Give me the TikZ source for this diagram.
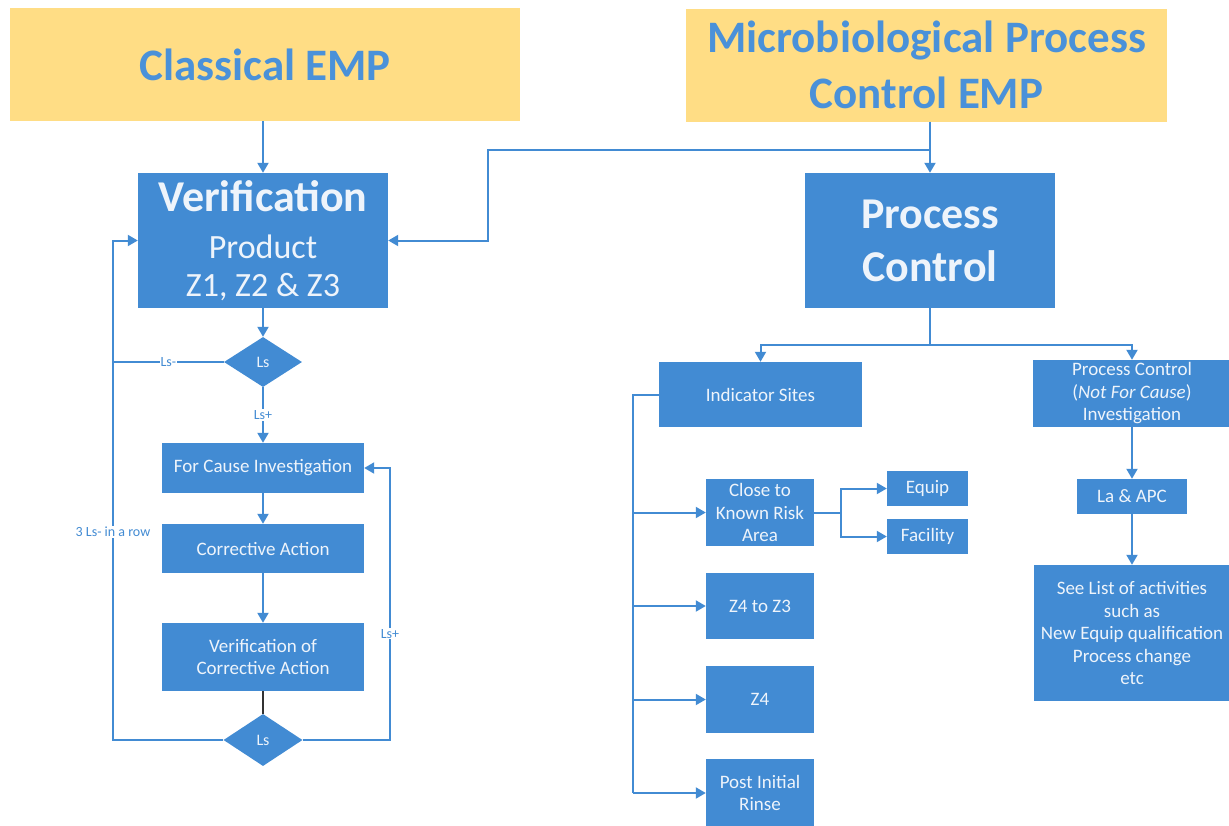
\documentclass[tikz,border=0pt]{standalone}
\usepackage{fontspec}
\setmainfont{Carlito}
\usetikzlibrary{shapes.geometric,arrows.meta}
\definecolor{boxblue}{RGB}{66,139,211}
\definecolor{hdryellow}{RGB}{255,221,133}
\definecolor{hdrtext}{RGB}{74,145,217}
\definecolor{boxtext}{RGB}{238,244,251}

\begin{document}
\begin{tikzpicture}[x=1pt,y=-1pt,
  hdr/.style={fill=hdryellow,text=hdrtext,align=center,inner sep=0,
    font=\fontsize{45}{56}\selectfont\bfseries},
  blk/.style={fill=boxblue,text=boxtext,align=center,inner sep=0,
    font=\fontsize{19}{22.5}\selectfont},
  dec/.style={diamond,fill=boxblue,text=boxtext,inner sep=0,
    font=\fontsize{16}{18}\selectfont},
  ln/.style={draw=boxblue,line width=2pt},
  arr/.style={ln,-{Triangle[width=11pt,length=10pt]}},
  lbl/.style={fill=white,text=boxblue,inner sep=1pt,
    font=\fontsize{14}{16}\selectfont}]
\useasboundingbox (0,0) rectangle (1229,825);
\clip (0,0) rectangle (1229,825);

% headers
\node[hdr,minimum width=510pt,minimum height=113pt] (classic) at (265,64.5) {Classical EMP};
\node[hdr,minimum width=481pt,minimum height=113pt] (micro) at (926.5,65)
  {Microbiological Process\\Control EMP};

% left column
\node[blk,minimum width=250pt,minimum height=135pt,font=\fontsize{34}{38}\selectfont]
  (vfy) at (263,240.5)
  {{\fontsize{44}{46}\selectfont\bfseries Verification}\\[9pt]Product\\Z1, Z2 \& Z3};
\node[dec,minimum width=78pt,minimum height=50pt] (d1) at (263,362) {Ls};
\node[blk,minimum width=202pt,minimum height=50pt] (fci) at (263,468) {For Cause Investigation};
\node[blk,minimum width=202pt,minimum height=49pt] (ca) at (263,548.5) {Corrective Action};
\node[blk,minimum width=202pt,minimum height=68pt] (vca) at (263,657)
  {Verification of\\Corrective Action};
\node[dec,minimum width=79pt,minimum height=52pt] (d2) at (263,740) {Ls};

% right part
\node[blk,minimum width=250pt,minimum height=135pt,font=\fontsize{44}{53}\selectfont\bfseries]
  (pc) at (930,240.5) {Process\\Control};
\node[blk,minimum width=203pt,minimum height=65pt] (ind) at (760.5,394.5) {Indicator Sites};
\node[blk,minimum width=108pt,minimum height=67pt] (ckr) at (760,512.5)
  {Close to\\Known Risk\\Area};
\node[blk,minimum width=81pt,minimum height=35pt] (equip) at (927.5,488.5) {Equip};
\node[blk,minimum width=81pt,minimum height=35pt] (fac) at (927.5,536.5) {Facility};
\node[blk,minimum width=108pt,minimum height=66pt] (z43) at (760,606) {Z4 to Z3};
\node[blk,minimum width=108pt,minimum height=67pt] (z4) at (760,699.5) {Z4};
\node[blk,minimum width=108pt,minimum height=68pt] (pir) at (760,793)
  {Post Initial\\Rinse};
\node[blk,minimum width=198pt,minimum height=67pt] (pcn) at (1132,393.5)
  {Process Control\\(\textit{Not For Cause})\\Investigation};
\node[blk,minimum width=110pt,minimum height=35pt] (la) at (1132,496.5) {La \& APC};
\node[blk,minimum width=197pt,minimum height=136pt] (list) at (1132,633)
  {See List of activities\\such as\\New Equip qualification\\Process change\\etc};

\coordinate (lft) at (113,0);
\coordinate (rgt) at (390,0);
\coordinate (jn) at (930,150);
\coordinate (bnd) at (488,150);
\coordinate (pj) at (930,345);
\coordinate (trk) at (633,0);
\coordinate (fk) at (841,512.5);

\draw[arr] (vfy.north |- classic.south) -- (vfy.north);
\draw[arr] (pc.north |- micro.south) -- (pc.north);
\draw[arr] (jn) -- (bnd) |- (vfy.east);
\draw[arr] (vfy.south) -- (d1.north);
\draw[arr] (d1.west) -- node[lbl] {Ls-} (d1.west -| lft) |- (vfy.west);
\draw[arr] (d1.south) -- node[lbl] {Ls+} (fci.north);
\draw[arr] (fci.south) -- (ca.north);
\draw[arr] (ca.south) -- (vca.north);
\draw[line width=2pt,black!80] (vca.south) -- (d2.north);
\draw[ln] (d2.west) -- (d2.west -| lft) -- node[lbl,pos=0.55] {3 Ls- in a row} (lft |- d1.west);
\draw[arr] (d2.east) -- (d2.east -| rgt) -- node[lbl,pos=0.39] {Ls+} (rgt |- fci.east) -- (fci.east);

\draw[ln] (pc.south) -- (pj);
\draw[arr] (pj) -| (ind.north);
\draw[arr] (pj) -| (pcn.north);
\draw[ln] (ind.west) -| (trk |- pir.west);
\draw[arr] (trk |- ckr.west) -- (ckr.west);
\draw[arr] (trk |- z43.west) -- (z43.west);
\draw[arr] (trk |- z4.west) -- (z4.west);
\draw[arr] (trk |- pir.west) -- (pir.west);
\draw[ln] (ckr.east) -- (fk);
\draw[arr] (fk) |- (equip.west);
\draw[arr] (fk) |- (fac.west);
\draw[arr] (pcn.south) -- (la.north);
\draw[arr] (la.south) -- (list.north);
\end{tikzpicture}
\end{document}
